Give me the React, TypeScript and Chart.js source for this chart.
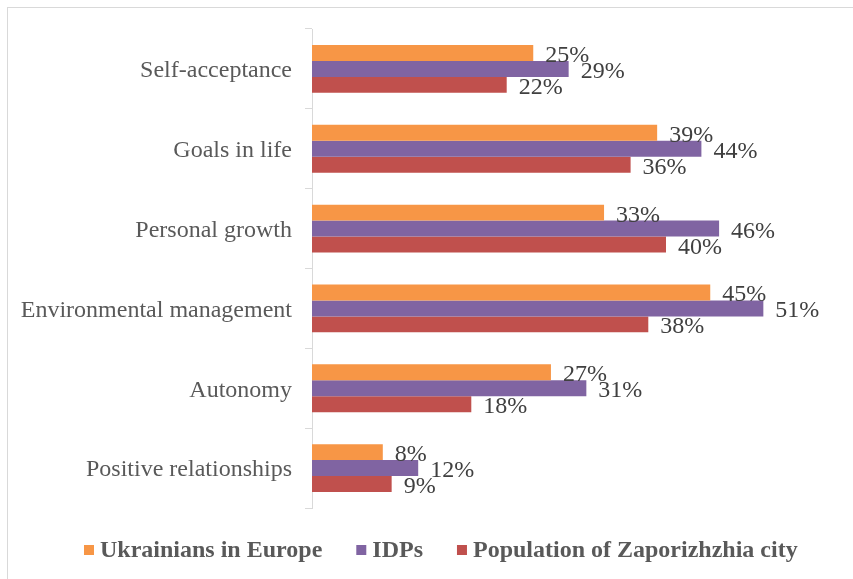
import React, { useEffect, useRef } from "react";
import { Chart, registerables } from "chart.js";

Chart.register(...registerables);

const categories = [
  "Self-acceptance",
  "Goals in life",
  "Personal growth",
  "Environmental management",
  "Autonomy",
  "Positive relationships",
];
const seriesNames = ["Ukrainians in Europe", "IDPs", "Population of Zaporizhzhia city"];
const ukrainiansInEurope = [25, 39, 33, 45, 27, 8];
const idps = [29, 44, 46, 51, 31, 12];
const zaporizhzhia = [22, 36, 40, 38, 18, 9];
const seriesColors = ["#F79646", "#8064A2", "#C0504D"];

const FONT = "'Liberation Serif', 'Times New Roman', serif";

const dataLabels = {
  id: "dataLabels",
  afterDatasetsDraw(chart: any) {
    const ctx = chart.ctx;
    ctx.save();
    ctx.font = `24px ${FONT}`;
    ctx.fillStyle = "#404040";
    ctx.textAlign = "left";
    ctx.textBaseline = "alphabetic";
    chart.data.datasets.forEach((ds: any, di: number) => {
      const meta = chart.getDatasetMeta(di);
      meta.data.forEach((bar: any, i: number) => {
        ctx.fillText(`${ds.data[i]}%`, bar.x + 12, bar.y + 9);
      });
    });
    ctx.restore();
  },
};

const customLegend = {
  id: "customLegend",
  afterDraw(chart: any) {
    const ctx = chart.ctx;
    ctx.save();
    ctx.font = `bold 24px ${FONT}`;
    ctx.textBaseline = "middle";
    ctx.textAlign = "left";
    const y = 550;
    let x = 84;
    chart.data.datasets.forEach((ds: any) => {
      ctx.fillStyle = ds.backgroundColor;
      ctx.fillRect(x, y - 5, 10, 10);
      ctx.fillStyle = "#595959";
      ctx.fillText(ds.label, x + 16, y + 1);
      x += 16 + ctx.measureText(ds.label).width + 34;
    });
    ctx.restore();
  },
};

export default function App() {
  const ref = useRef<HTMLCanvasElement>(null);
  useEffect(() => {
    if (!ref.current) return;
    const seriesData = [ukrainiansInEurope, idps, zaporizhzhia];
    const chart = new Chart(ref.current, {
      type: "bar",
      data: {
        labels: categories,
        datasets: seriesNames.map((name, i) => ({
          label: name,
          data: seriesData[i],
          backgroundColor: seriesColors[i],
          borderWidth: 0,
          categoryPercentage: 0.6,
          barPercentage: 1,
        })),
      },
      options: {
        indexAxis: "y",
        responsive: false,
        animation: false,
        devicePixelRatio: 1,
        layout: { padding: { top: 29, bottom: 71, right: 10, left: 0 } },
        plugins: {
          legend: { display: false },
          tooltip: { enabled: false },
        },
        scales: {
          x: { display: false, min: 0, max: 60 },
          y: {
            afterFit(scale: any) {
              scale.width = 312;
            },
            grid: {
              drawOnChartArea: false,
              drawTicks: true,
              tickLength: 7,
              color: "#d9d9d9",
              offset: true,
            },
            border: { display: true, color: "#d9d9d9", width: 1 },
            ticks: {
              padding: 13,
              labelOffset: 2,
              color: "#595959",
              font: { family: FONT, size: 24 },
            },
          },
        },
      } as any,
      plugins: [dataLabels, customLegend],
    });
    return () => chart.destroy();
  }, []);
  return (
    <div style={{ position: "fixed", left: 0, top: 0, width: 853, height: 579, overflow: "hidden", background: "#fff" }}>
      <div
        style={{
          position: "absolute",
          left: 7,
          top: 7,
          width: 950,
          height: 800,
          border: "1px solid #d9d9d9",
        }}
      />
      <canvas ref={ref} width={853} height={579} style={{ position: "absolute", left: 0, top: 0 }} />
    </div>
  );
}
